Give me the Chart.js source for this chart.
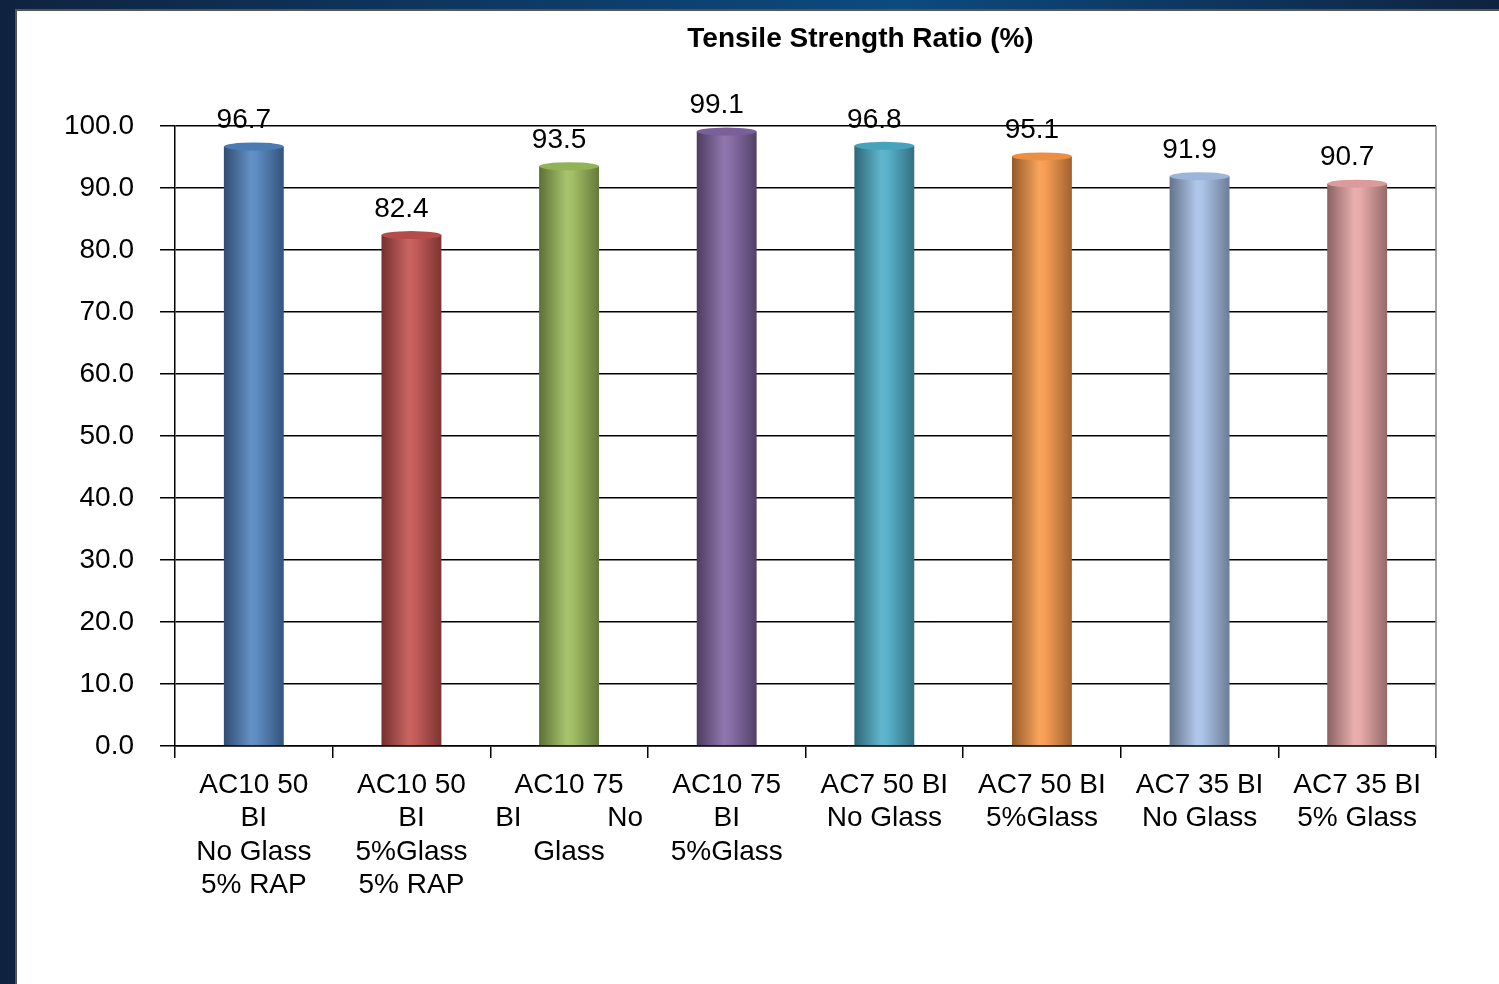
<!DOCTYPE html>
<html>
<head>
<meta charset="utf-8">
<script src="https://cdn.jsdelivr.net/npm/chart.js@4/dist/chart.umd.min.js"></script>
<style>
  html, body { margin: 0; padding: 0; }
  body {
    width: 1499px; height: 984px; overflow: hidden;
    background: linear-gradient(90deg, #0f2340 0%, #0c4a80 60%, #0f2340 100%);
  }
  #panel {
    position: absolute; left: 15px; top: 9px; width: 1490px; height: 980px;
    background: #fff; border-left: 2px solid #555; border-top: 2px solid #555;
  }
  #wrap { position: absolute; left: 0; top: 0; width: 1484px; height: 975px; }
</style>
</head>
<body>
<div id="panel"><div id="wrap"><canvas id="bar-chart"></canvas></div></div>
<script>
const chartTitle = 'Tensile Strength Ratio (%)';
const categories = [
  ['AC10 50', 'BI', 'No Glass', '5% RAP'],
  ['AC10 50', 'BI', '5%Glass', '5% RAP'],
  ['AC10 75', 'BI           No', 'Glass'],
  ['AC10 75', 'BI', '5%Glass'],
  ['AC7 50 BI', 'No Glass'],
  ['AC7 50 BI', '5%Glass'],
  ['AC7 35 BI', 'No Glass'],
  ['AC7 35 BI', '5% Glass']
];
const ratios = [96.7, 82.4, 93.5, 99.1, 96.8, 95.1, 91.9, 90.7];
const barColors = ['#4f81bd', '#c0504d', '#9bbb59', '#8064a2', '#4bacc6', '#f79646', '#a5bfe6', '#e6a3a3'];

const FONT = '"Liberation Sans", Arial, sans-serif';

function shade(hex, f) {
  let r = parseInt(hex.slice(1, 3), 16), g = parseInt(hex.slice(3, 5), 16), b = parseInt(hex.slice(5, 7), 16);
  if (f < 0) { r *= 1 + f; g *= 1 + f; b *= 1 + f; }
  else { r += (255 - r) * f; g += (255 - g) * f; b += (255 - b) * f; }
  return 'rgb(' + Math.round(r) + ',' + Math.round(g) + ',' + Math.round(b) + ')';
}

// horizontal gradient so each bar looks like a cylinder
function cylinder(ctx) {
  const chart = ctx.chart;
  const c = barColors[ctx.dataIndex];
  if (!chart.chartArea) return c;
  const el = chart.getDatasetMeta(0).data[ctx.dataIndex];
  const cx = chart.scales.x.getPixelForValue(ctx.dataIndex);
  const w = el && el.width ? el.width : 60;
  const grad = chart.ctx.createLinearGradient(cx - w / 2, 0, cx + w / 2, 0);
  grad.addColorStop(0, shade(c, -0.4));
  grad.addColorStop(0.45, shade(c, 0.12));
  grad.addColorStop(0.55, shade(c, 0.08));
  grad.addColorStop(1, shade(c, -0.35));
  return grad;
}

const decorations = {
  id: 'decorations',
  afterDatasetsDraw(chart) {
    const ctx = chart.ctx;
    const area = chart.chartArea;
    const meta = chart.getDatasetMeta(0);
    ctx.save();
    // back wall right edge
    ctx.strokeStyle = '#888';
    ctx.lineWidth = 1.5;
    ctx.beginPath();
    ctx.moveTo(area.right, area.top);
    ctx.lineTo(area.right, area.bottom);
    ctx.stroke();
    meta.data.forEach((el, i) => {
      ctx.fillStyle = shade(barColors[i], -0.05);
      ctx.beginPath();
      ctx.ellipse(el.x, el.y, el.width / 2, 4, 0, 0, Math.PI * 2);
      ctx.fill();
      ctx.fillStyle = '#000';
      ctx.font = '28px ' + FONT;
      ctx.textAlign = 'center';
      ctx.textBaseline = 'bottom';
      ctx.fillText(ratios[i].toFixed(1), el.x - 10, el.y - 12);
    });
    // title, sits a bit right of the plot centre like the original
    ctx.font = 'bold 28px ' + FONT;
    ctx.textBaseline = 'middle';
    ctx.fillText(chartTitle, (area.left + area.right) / 2 + 55, 28);
    ctx.restore();
  }
};

new Chart(document.getElementById('bar-chart'), {
  type: 'bar',
  data: {
    labels: categories,
    datasets: [{
      data: ratios,
      backgroundColor: cylinder,
      borderWidth: 0,
      barPercentage: 0.38,
      categoryPercentage: 1.0
    }]
  },
  options: {
    responsive: true,
    maintainAspectRatio: false,
    animation: false,
    layout: { padding: { left: 0, right: 65, top: 115, bottom: 30 } },
    scales: {
      x: {
        grid: { display: true, drawOnChartArea: false, color: '#000', tickLength: 12, lineWidth: 1.5 },
        border: { color: '#000', width: 1.5 },
        ticks: {
          color: '#000', padding: 10, maxRotation: 0, autoSkip: false,
          font: { family: FONT, size: 28, lineHeight: 1.2 }
        },
        afterFit(scale) { scale.height = 210; }
      },
      y: {
        min: 0, max: 100,
        grid: { color: '#000', lineWidth: 1.5, tickLength: 15 },
        border: { color: '#000', width: 1.5 },
        ticks: {
          stepSize: 10, color: '#000', padding: 26,
          callback: v => v.toFixed(1),
          font: { family: FONT, size: 28 }
        },
        afterFit(scale) { scale.width = 158; }
      }
    },
    plugins: {
      legend: { display: false },
      tooltip: { enabled: false },
      title: { display: false }
    }
  },
  plugins: [decorations]
});
</script>
</body>
</html>
